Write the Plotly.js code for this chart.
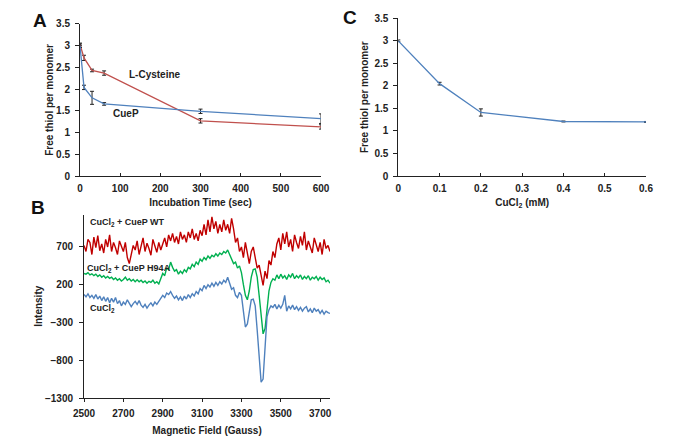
<!DOCTYPE html>
<html>
<head>
<meta charset="utf-8">
<script src="https://cdn.plot.ly/plotly-3.0.1.min.js"></script>
<style>html,body{margin:0;padding:0;background:#fff;}#chart{width:695px;height:441px;}</style>
</head>
<body>
<div id="chart"></div>
<script>
// Panel A: free thiol vs incubation time
const timeSec = [0, 10, 30, 60, 300, 600];
const cysteineThiol = [3.03, 2.72, 2.43, 2.37, 1.27, 1.13];
const cysteineErr = [0.03, 0.06, 0.03, 0.05, 0.05, 0.05];
const cuepThiol = [3.0, 2.04, 1.8, 1.66, 1.49, 1.32];
const cuepErr = [0.04, 0.05, 0.15, 0.03, 0.05, 0.11];

// Panel C: free thiol vs CuCl2 concentration
const cuclConc = [0, 0.1, 0.2, 0.4, 0.6];
const cuclThiol = [3.0, 2.05, 1.41, 1.21, 1.2];
const cuclErr = [0.02, 0.03, 0.08, 0.01, 0.01];

// Panel B: EPR spectra, magnetic field from 2500 G in 10 G steps
const fieldStart = 2500;
const fieldStep = 10;
const eprWT = [
 720,640,800,760,600,830,690,850,650,740,
 620,800,700,860,640,760,690,600,780,700,
 640,760,560,480,620,720,660,780,600,700,
 820,640,750,680,590,800,700,630,760,660,
 740,820,700,860,780,880,760,840,740,900,
 800,860,760,900,820,940,800,880,780,920,
 850,1000,860,1060,900,1100,940,1040,880,1000,
 900,1060,920,1000,880,1080,940,760,820,640,
 700,560,760,600,480,640,700,560,420,460,
 300,190,380,280,520,460,640,560,740,820,
 660,880,740,900,700,800,640,860,760,680,
 840,720,900,660,780,700,620,820,720,640,
 760,600,800,680,720,640
];
const eprH94A = [
 350,340,360,330,345,320,340,310,330,300,
 320,290,310,285,300,270,290,260,280,250,
 270,300,260,280,250,270,240,265,240,260,
 230,250,220,245,230,260,220,240,210,280,
 350,320,420,400,500,430,380,400,340,380,
 350,400,370,430,410,470,440,500,470,540,
 510,560,530,580,550,590,570,610,580,620,
 600,640,620,660,600,520,480,500,420,450,
 360,200,60,0,120,300,400,410,300,60,
 -250,-450,-380,-100,120,230,280,260,330,280,
 340,290,320,270,330,300,350,280,320,290,
 330,270,310,280,320,260,300,280,310,260,
 300,270,290,240,260,220
];
const eprCuCl2 = [
 70,40,80,30,60,20,70,10,50,-10,
 40,-20,30,-40,20,-30,30,-50,-10,-80,
 -30,-60,0,-40,-90,-50,-20,-60,-10,-70,
 -100,-60,-110,-70,-40,-80,-30,-60,-20,20,
 60,30,90,70,110,60,20,50,0,40,
 -10,50,10,70,30,80,50,110,80,150,
 120,190,150,200,170,220,180,230,190,240,
 210,260,230,300,220,140,160,60,30,100,
 60,-150,-360,-320,-130,0,10,-80,-400,-800,
 -1090,-1050,-600,-220,-130,-80,-100,-60,-120,-70,
 -110,-60,60,-150,-80,-120,-70,-130,-90,-140,
 -100,-150,-110,-90,-160,-120,-170,-110,-150,-130,
 -180,-140,-190,-150,-170,-180
];

const FONT = 'Liberation Sans, Arial, sans-serif';
const tickFont = {family: FONT, size: 10, color: '#222', weight: 'bold'};
const titleFont = {family: FONT, size: 10, color: '#222', weight: 'bold'};

const errStyle = (arr) => ({type: 'data', array: arr, visible: true, color: '#222', thickness: 1, width: 2});

const traces = [
  {x: timeSec, y: cysteineThiol, xaxis: 'x', yaxis: 'y', mode: 'lines', name: 'L-Cysteine',
   line: {color: '#C0504D', width: 1.3}, error_y: errStyle(cysteineErr)},
  {x: timeSec, y: cuepThiol, xaxis: 'x', yaxis: 'y', mode: 'lines', name: 'CueP',
   line: {color: '#4F81BD', width: 1.3}, error_y: errStyle(cuepErr)},
  {x0: fieldStart, dx: fieldStep, y: eprWT, xaxis: 'x2', yaxis: 'y2', mode: 'lines',
   line: {color: '#C00000', width: 1.4}},
  {x0: fieldStart, dx: fieldStep, y: eprH94A, xaxis: 'x2', yaxis: 'y2', mode: 'lines',
   line: {color: '#00B050', width: 1.4}},
  {x0: fieldStart, dx: fieldStep, y: eprCuCl2, xaxis: 'x2', yaxis: 'y2', mode: 'lines',
   line: {color: '#4F81BD', width: 1.4}},
  {x: cuclConc, y: cuclThiol, xaxis: 'x3', yaxis: 'y3', mode: 'lines', name: 'CuCl2',
   line: {color: '#4F81BD', width: 1.3}, error_y: errStyle(cuclErr)}
];

const axisBase = {
  showgrid: false, zeroline: false, showline: true, linecolor: '#222', linewidth: 1,
  tickfont: tickFont, tickcolor: '#222', ticklen: 4, tickwidth: 1, automargin: false, fixedrange: true,
  ticklabelstandoff: 3
};

const layout = {
  width: 695, height: 441,
  margin: {l: 0, r: 0, t: 0, b: 0},
  paper_bgcolor: '#fff', plot_bgcolor: 'rgba(0,0,0,0)',
  showlegend: false,
  xaxis: Object.assign({}, axisBase, {domain: [0.1151, 0.4619], range: [0, 600], dtick: 100, ticks: 'inside', ticklen: 3,
    anchor: 'y', title: {text: 'Incubation Time (sec)', font: titleFont, standoff: 5}}),
  yaxis: Object.assign({}, axisBase, {domain: [0.6009, 0.9456], range: [0, 3.5], dtick: 0.5, ticks: 'outside',
    anchor: 'x', title: {text: 'Free thiol per monomer', font: titleFont, standoff: 0}}),
  xaxis2: Object.assign({}, axisBase, {domain: [0.1209, 0.4748], range: [2500, 3750], tick0: 2500, dtick: 200, ticks: 'outside', ticklen: 3,
    anchor: 'y2', title: {text: 'Magnetic Field (Gauss)', font: titleFont, standoff: 8}}),
  yaxis2: Object.assign({}, axisBase, {domain: [0.0975, 0.5136], range: [-1300, 1130], tick0: -1300, dtick: 500, ticks: 'outside',
    ticklabelstandoff: 4, anchor: 'x2', title: {text: 'Intensity', font: titleFont, standoff: 0}}),
  xaxis3: Object.assign({}, axisBase, {domain: [0.5731, 0.9295], range: [0, 0.6], dtick: 0.1, ticks: 'inside', ticklen: 3,
    anchor: 'y3', title: {text: 'CuCl<sub>2</sub> (mM)', font: titleFont, standoff: 5}}),
  yaxis3: Object.assign({}, axisBase, {domain: [0.6009, 0.9585], range: [0, 3.5], dtick: 0.5, ticks: 'outside',
    anchor: 'x3', title: {text: 'Free thiol per monomer', font: titleFont, standoff: 3}}),
  annotations: [
    {text: 'A', xref: 'paper', yref: 'paper', x: 40/695, y: 1 - 20/441, showarrow: false, xanchor: 'center', yanchor: 'middle',
     font: {family: FONT, size: 19, color: '#111', weight: 'bold'}},
    {text: 'B', xref: 'paper', yref: 'paper', x: 38/695, y: 1 - 207/441, showarrow: false, xanchor: 'center', yanchor: 'middle',
     font: {family: FONT, size: 19, color: '#111', weight: 'bold'}},
    {text: 'C', xref: 'paper', yref: 'paper', x: 350/695, y: 1 - 17/441, showarrow: false, xanchor: 'center', yanchor: 'middle',
     font: {family: FONT, size: 19, color: '#111', weight: 'bold'}},
    {text: 'L-Cysteine', xref: 'paper', yref: 'paper', x: 127/695, y: 1 - 75/441, showarrow: false, xanchor: 'left', yanchor: 'middle',
     font: titleFont},
    {text: 'CueP', xref: 'paper', yref: 'paper', x: 111/695, y: 1 - 113/441, showarrow: false, xanchor: 'left', yanchor: 'middle',
     font: titleFont},
    {text: 'CuCl<sub>2</sub> + CueP WT', xref: 'paper', yref: 'paper', x: 88/695, y: 1 - 222/441, showarrow: false, xanchor: 'left', yanchor: 'middle',
     font: {family: FONT, size: 9, color: '#222', weight: 'bold'}},
    {text: 'CuCl<sub>2</sub> + CueP H94A', xref: 'paper', yref: 'paper', x: 85/695, y: 1 - 268/441, showarrow: false, xanchor: 'left', yanchor: 'middle',
     font: {family: FONT, size: 9, color: '#222', weight: 'bold'}},
    {text: 'CuCl<sub>2</sub>', xref: 'paper', yref: 'paper', x: 88/695, y: 1 - 308/441, showarrow: false, xanchor: 'left', yanchor: 'middle',
     font: {family: FONT, size: 9, color: '#222', weight: 'bold'}}
  ]
};

Plotly.newPlot('chart', traces, layout, {displayModeBar: false, staticPlot: true});
</script>
</body>
</html>
